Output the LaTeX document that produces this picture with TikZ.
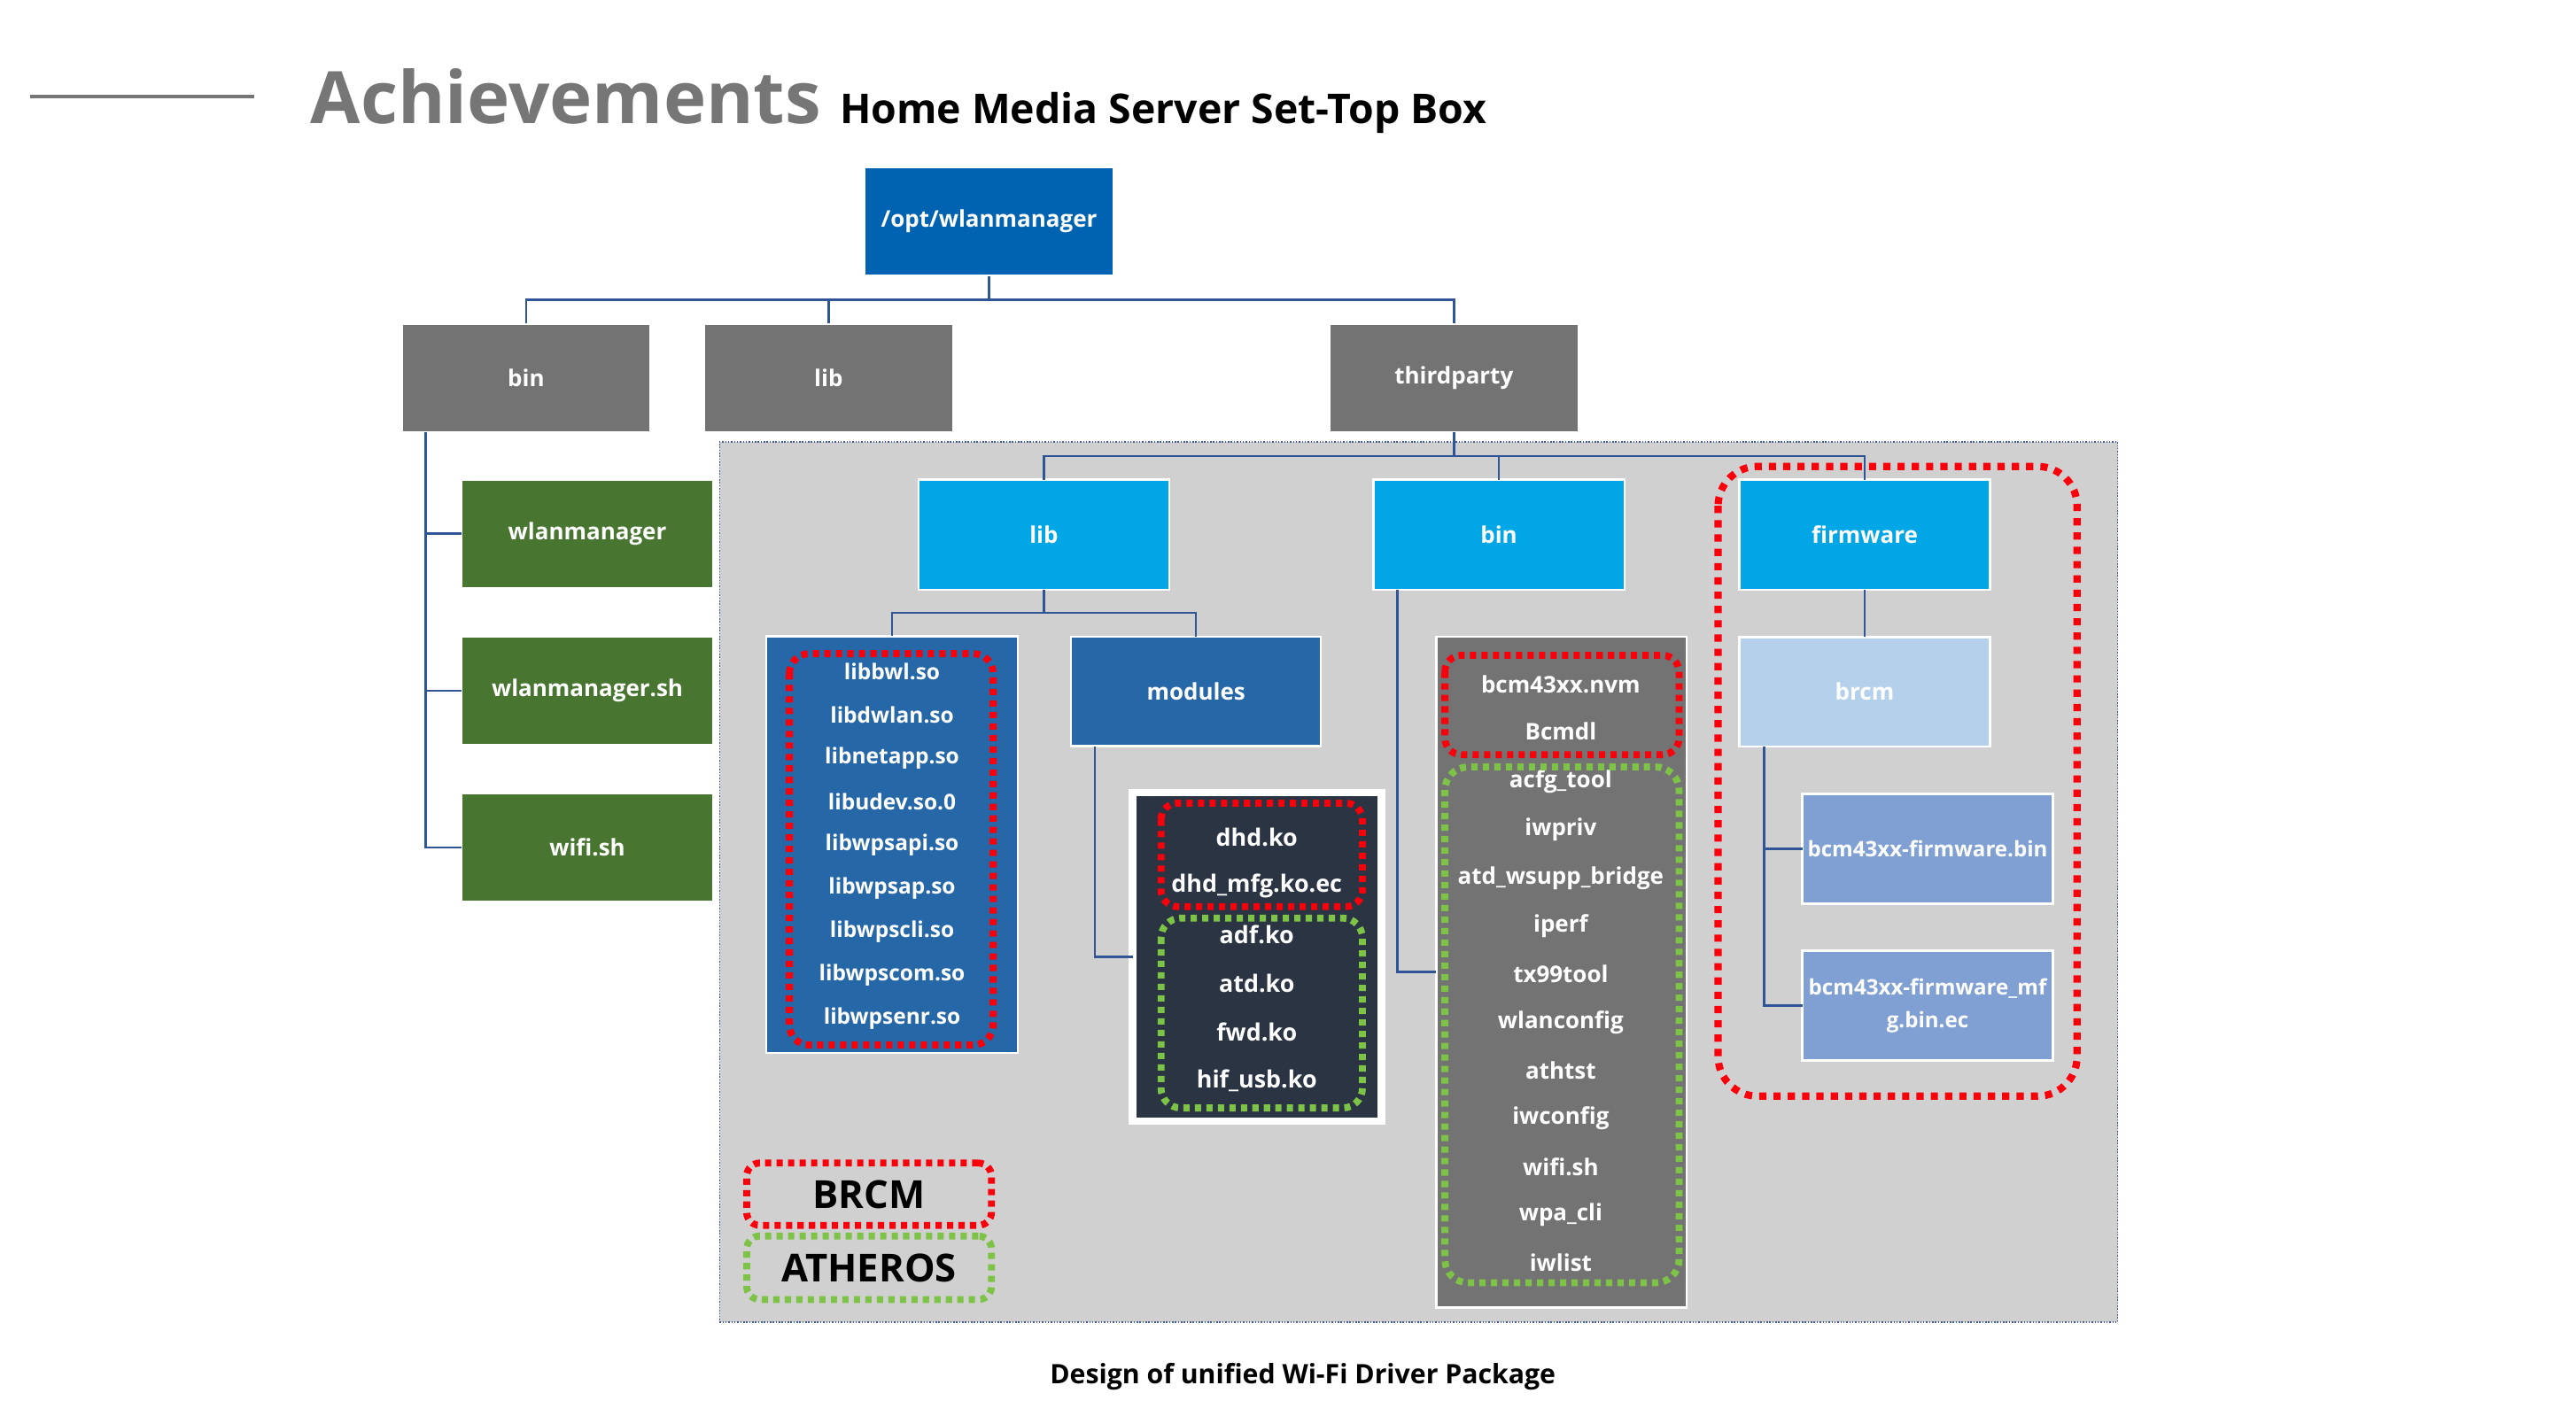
\documentclass[tikz,border=0pt]{standalone}
\usepackage{fontspec}
\setmainfont{Open Sans}
\usetikzlibrary{calc}
\definecolor{optblue}{RGB}{0,99,177}
\definecolor{boxgray}{RGB}{115,115,115}
\definecolor{grn}{RGB}{72,117,48}
\definecolor{cyanb}{RGB}{0,166,230}
\definecolor{midblue}{RGB}{38,103,168}
\definecolor{darkc}{RGB}{42,52,67}
\definecolor{brcmc}{RGB}{180,208,234}
\definecolor{fwc}{RGB}{128,160,212}
\definecolor{panelc}{RGB}{208,208,208}
\definecolor{panelb}{RGB}{70,90,150}
\definecolor{connc}{RGB}{47,85,151}
\definecolor{dotred}{RGB}{250,0,10}
\definecolor{dotgrn}{RGB}{125,195,70}
\definecolor{titleg}{RGB}{118,118,118}
\tikzset{
  box/.style={draw=white, line width=1.3pt, inner sep=0pt, outer sep=0pt, text=white,
    font=\fontsize{14}{16}\selectfont\bfseries, align=center},
  conn/.style={draw=connc, line width=1.4pt},
  reddots/.style={draw=dotred, line width=4.2pt, dash pattern=on 3.8pt off 3.2pt},
  grndots/.style={draw=dotgrn, line width=4.2pt, dash pattern=on 3.8pt off 3.2pt},
  bigdots/.style={draw=dotred, line width=4.4pt, dash pattern=on 4.4pt off 4.3pt},
  lbl/.style={text=white, inner sep=0pt, font=\fontsize{14}{16}\selectfont\bfseries},
  lbls/.style={text=white, inner sep=0pt, font=\fontsize{13.2}{16}\selectfont\bfseries},
  legend/.style={inner sep=0pt, outer sep=0pt, text=black, font=\fontsize{23.5}{26}\selectfont\bfseries, rounded corners=8pt}
}
\begin{document}
\begin{tikzpicture}[x=1pt,y=-1pt]
\useasboundingbox (0,0) rectangle (1568,867);
\fill[white] (0,0) rectangle (1568,867);

% title
\draw[titleg, line width=2.2pt] (18.6,59) -- (154.8,59);
\node[anchor=base west, inner sep=0pt, text=titleg, font=\fontsize{44}{50}\selectfont\bfseries] (ttl) at (189,75) {Achievements};
\node[anchor=base west, inner sep=0pt, text=black, font=\fontsize{25}{30}\selectfont\bfseries] (sub) at (511,75) {Home Media Server Set-Top Box};

% panel
\node[draw=panelb, densely dotted, line width=0.8pt, fill=panelc, minimum width=851, minimum height=536, inner sep=0pt, outer sep=0pt] (panel) at (863.5,537) {};

% top level
\node[box, fill=optblue, minimum width=151.8, minimum height=66.5] (opt) at (602,134.8) {/opt/wlanmanager};
\node[box, fill=boxgray, minimum width=151.5, minimum height=66.3] (bin) at (320.25,230.15) {bin};
\node[box, fill=boxgray, minimum width=151.5, minimum height=66.3] (lib) at (504.35,230.15) {lib};
\node[box, fill=boxgray, minimum width=151.5, minimum height=66.3] (third) at (885,230.15) {thirdparty};

% bin children
\node[box, fill=grn, minimum width=153, minimum height=66] (wlm) at (357.5,325) {wlanmanager};
\node[box, fill=grn, minimum width=153, minimum height=66] (wlmsh) at (357.5,420.5) {wlanmanager.sh};
\node[box, fill=grn, minimum width=153, minimum height=66] (wifish) at (357.5,516) {wifi.sh};

% thirdparty children
\node[box, fill=cyanb, minimum width=152.8, minimum height=67] (lib2) at (635.4,325.5) {lib};
\node[box, fill=cyanb, minimum width=152.8, minimum height=67] (bin2) at (912.35,325.5) {bin};
\node[box, fill=cyanb, minimum width=152.6, minimum height=67] (fw) at (1135,325.5) {firmware};

\node[box, fill=midblue, minimum width=153, minimum height=253.6] (libs) at (542.9,514.2) {};
\node[box, fill=midblue, minimum width=152, minimum height=66.7] (modules) at (728,421) {modules};
\node[draw=white, line width=4.5pt, fill=darkc, inner sep=0pt, outer sep=0pt, minimum width=151.5, minimum height=200] (modc) at (765.15,582.7) {};
\node[box, fill=boxgray, minimum width=152.4, minimum height=408.3] (binc) at (950.5,591.9) {};
\node[box, fill=brcmc, minimum width=152.6, minimum height=66.6] (brcm) at (1135,421.2) {brcm};
\node[box, fill=fwc, minimum width=152.6, minimum height=66.9, font=\fontsize{13}{16}\selectfont\bfseries] (fw1) at (1173.3,516.75) {bcm43xx-firmware.bin};
\node[box, fill=fwc, minimum width=152.6, minimum height=66.8, font=\fontsize{13}{20}\selectfont\bfseries] (fw2) at (1173.3,612.2) {bcm43xx-firmware\_mf\\g.bin.ec};

% connectors
\coordinate (b1) at (602,182.4);
\draw[conn] (opt.south) -- (b1);
\draw[conn] (bin.north) |- (b1) -| (third.north);
\draw[conn] (lib.north) -- (lib.north |- b1);
\coordinate (bt) at ([xshift=14.5pt]bin.south west);
\draw[conn] (bt) |- (wlm.west);
\draw[conn] (bt) |- (wlmsh.west);
\draw[conn] (bt) |- (wifish.west);
\coordinate (b2) at (885,277.7);
\draw[conn] (third.south) -- (b2);
\draw[conn] (lib2.north) |- (b2) -| (fw.north);
\draw[conn] (bin2.north) -- (bin2.north |- b2);
\coordinate (b3) at (635.4,373.2);
\draw[conn] (lib2.south) -- (b3);
\draw[conn] (libs.north) |- (b3) -| (modules.north);
\draw[conn] ([xshift=14.5pt]modules.south west) |- (modc.west);
\draw[conn] ([xshift=14.5pt]bin2.south west) |- (binc.west);
\draw[conn] (fw.south) -- (brcm.north);
\coordinate (brt) at ([xshift=15pt]brcm.south west);
\draw[conn] (brt) |- (fw1.west);
\draw[conn] (brt) |- (fw2.west);

% list texts
\foreach \t [count=\i] in {libbwl.so,libdwlan.so,libnetapp.so,libudev.so.0,libwpsapi.so,libwpsap.so,libwpscli.so,libwpscom.so,libwpsenr.so}
  \node[lbls] (lb\i) at (543,{409+(\i-1)*26.4}) {\t};
\foreach \t [count=\i] in {dhd.ko,dhd\_mfg.ko.ec,adf.ko,atd.ko,fwd.ko,hif\_usb.ko}
  \node[lbl, font=\fontsize{14.5}{16}\selectfont\bfseries] (mk\i) at (765,{510+(\i-1)*29.6}) {\t};
\node[lbl] (bn1) at (950,416.5) {bcm43xx.nvm};
\node[lbl] (bn2) at (950,445.5) {Bcmdl};
\foreach \t [count=\i] in {acfg\_tool,iwpriv,atd\_wsupp\_bridge,iperf,tx99tool,wlanconfig,athtst,iwconfig,wifi.sh,wpa\_cli,iwlist}
  \node[lbl] (bt\i) at (950,{476+(\i-1)*29.3}) {\t};

% dotted groups
\draw[reddots, rounded corners=12pt] (480.5,398) rectangle (604.5,636.3);
\draw[reddots, rounded corners=10pt] (706.7,489) rectangle (829.3,552);
\draw[grndots, rounded corners=12pt] (706.7,559) rectangle (829.3,674.6);
\draw[reddots, rounded corners=10pt] (879.5,399) rectangle (1022,459.5);
\draw[grndots, rounded corners=14pt] (879.5,467) rectangle (1022,781);
\draw[bigdots, rounded corners=24pt] (1045.8,284) rectangle (1264.3,667.4);

% legend
\node[legend, reddots, minimum width=149, minimum height=38] (legb) at (529,727.1) {BRCM};
\node[legend, grndots, minimum width=149, minimum height=38.7] (lega) at (529,771.9) {ATHEROS};

% caption
\node[inner sep=0pt, text=black, font=\fontsize{16.3}{18}\selectfont\bfseries] (cap) at (793,838) {Design of unified Wi-Fi Driver Package};
\end{tikzpicture}
\end{document}
